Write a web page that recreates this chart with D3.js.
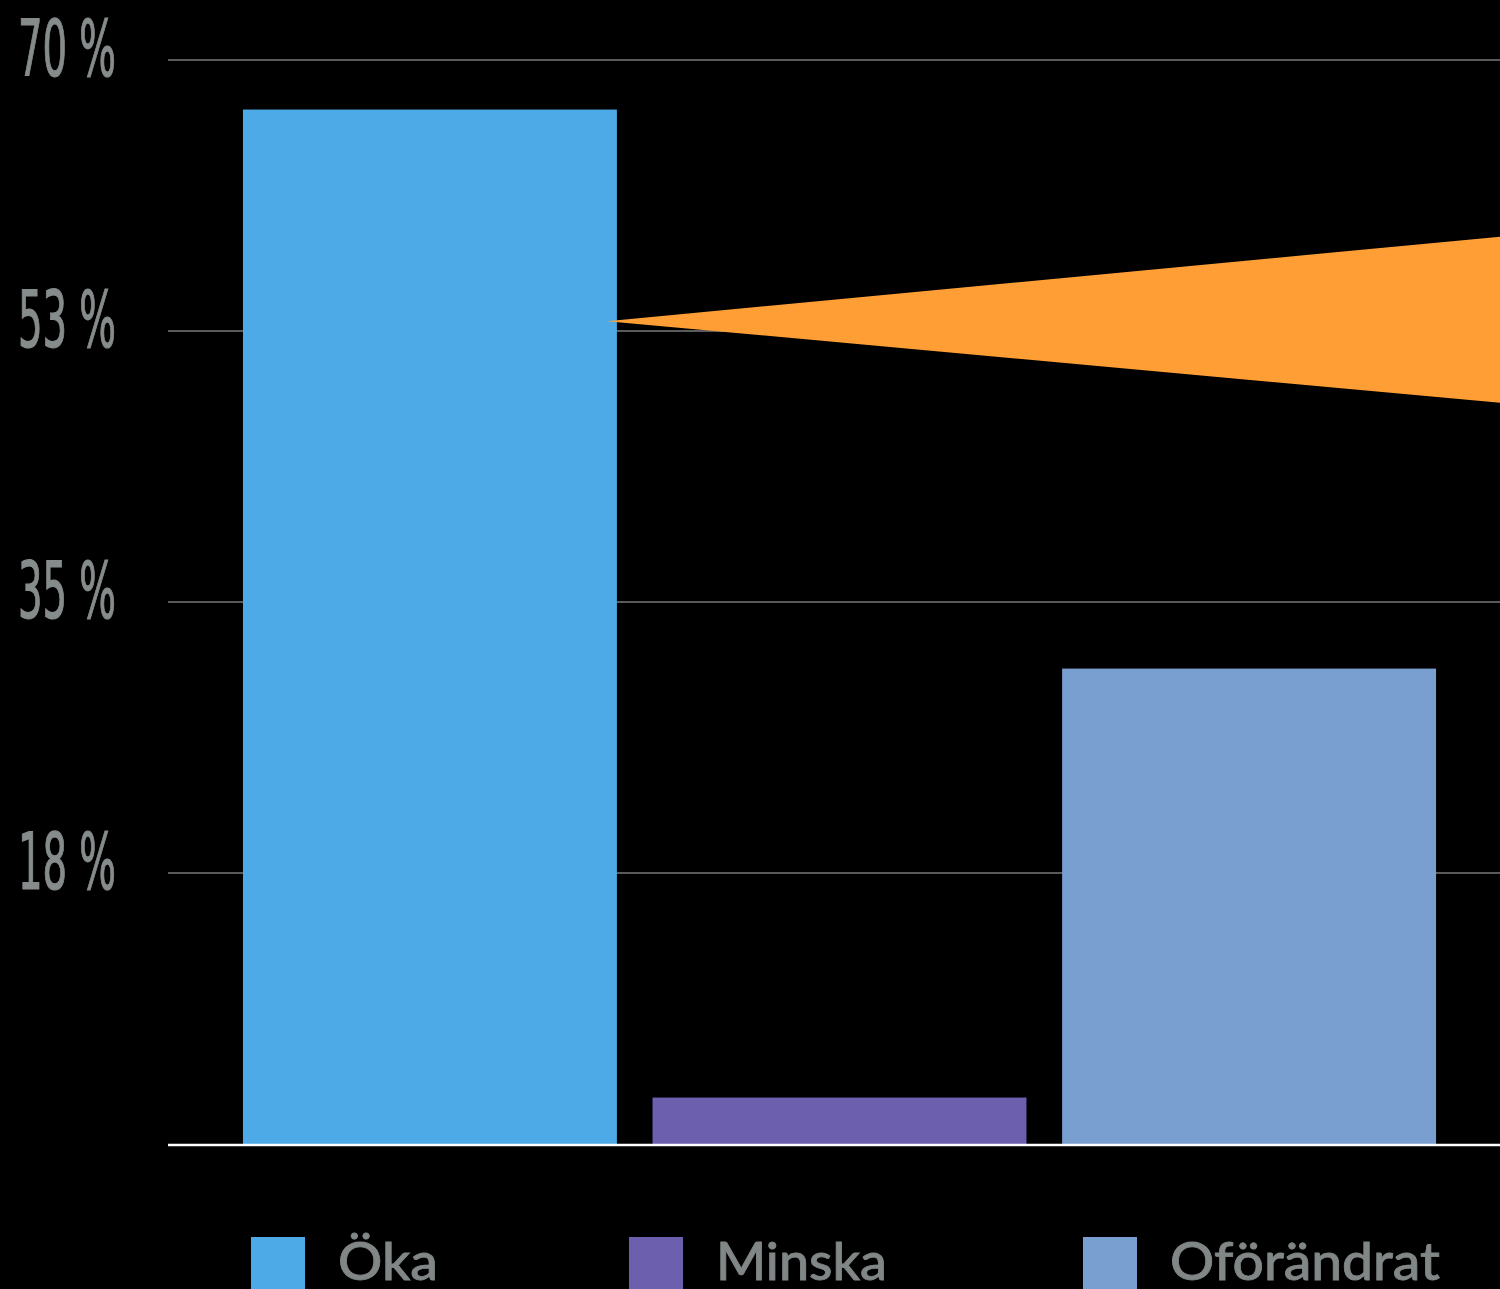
<!DOCTYPE html>
<html><head><meta charset="utf-8">
<script src="https://cdn.jsdelivr.net/npm/d3@7"></script>
<style>html,body{margin:0;padding:0;background:#000;overflow:hidden}</style>
</head><body>
<svg id="c" width="1500" height="1289"></svg>
<script>
const categories = ["Öka", "Minska", "Oförändrat"];
const values = [66.8, 3.0, 30.7];
const colors = ["#4DAAE6", "#6B5FAE", "#799ED0"];
const tickValues = [17.5, 35, 52.5, 70];
const tickLabels = ["18 %", "35 %", "53 %", "70 %"];
const calloutValue = 53.2;

const W = 1500, H = 1289;
const svg = d3.select("#c");
svg.append("rect").attr("width", W).attr("height", H).attr("fill", "#000");

const y = d3.scaleLinear().domain([0, 70]).range([1144, 60]);
const x = d3.scaleBand().domain(categories).range([168, 1511]).paddingInner(0.087).paddingOuter(0.183);

// gridlines
svg.append("g").selectAll("line").data(tickValues).join("line")
  .attr("x1", 168).attr("x2", W)
  .attr("y1", d => y(d)).attr("y2", d => y(d))
  .attr("stroke", "#5a5a5a").attr("stroke-width", 2);

// tick labels
svg.append("g").selectAll("text").data(tickValues).join("text")
  .attr("x", 18).attr("y", d => y(d) + 16)
  .attr("font-family", "'Liberation Sans Narrow', 'DejaVu Sans Condensed', sans-serif")
  .attr("font-weight", "normal").attr("font-size", 79)
  .attr("fill", "#868b8b").attr("stroke", "#868b8b").attr("stroke-width", 1.2)
  .attr("textLength", 98).attr("lengthAdjust", "spacingAndGlyphs")
  .text((d, i) => tickLabels[i]);

// bars
svg.append("g").selectAll("rect").data(values).join("rect")
  .attr("x", (d, i) => x(categories[i]))
  .attr("width", x.bandwidth())
  .attr("y", d => y(d))
  .attr("height", d => y(0) - y(d))
  .attr("fill", (d, i) => colors[i]);

// baseline
svg.append("line").attr("x1", 168).attr("x2", W)
  .attr("y1", y(0) + 1).attr("y2", y(0) + 1)
  .attr("stroke", "#ffffff").attr("stroke-width", 2.5);

// orange callout wedge
const ax = x(categories[0]) + x.bandwidth() - 10, ay = y(calloutValue) + 1;
svg.append("path")
  .attr("d", d3.line()([[ax, ay], [W + 5, ay - 85], [W + 5, ay + 82]]) + "Z")
  .attr("fill", "#FF9E35");

// legend
const legX = [251, 629, 1083];
const legTL = [100, 171, 270];
const lg = svg.append("g").selectAll("g").data(categories).join("g")
  .attr("transform", (d, i) => `translate(${legX[i]},1237)`);
lg.append("rect").attr("width", 54).attr("height", 54).attr("fill", (d, i) => colors[i]);
lg.append("text").attr("x", 87).attr("y", 43)
  .attr("font-family", "Lato, 'Noto Sans', sans-serif").attr("font-weight", 500)
  .attr("font-size", 52).attr("fill", "#818686").attr("stroke", "#818686").attr("stroke-width", 0.8)
  .attr("textLength", (d, i) => legTL[i]).attr("lengthAdjust", "spacingAndGlyphs")
  .text(d => d);
</script>
</body></html>
